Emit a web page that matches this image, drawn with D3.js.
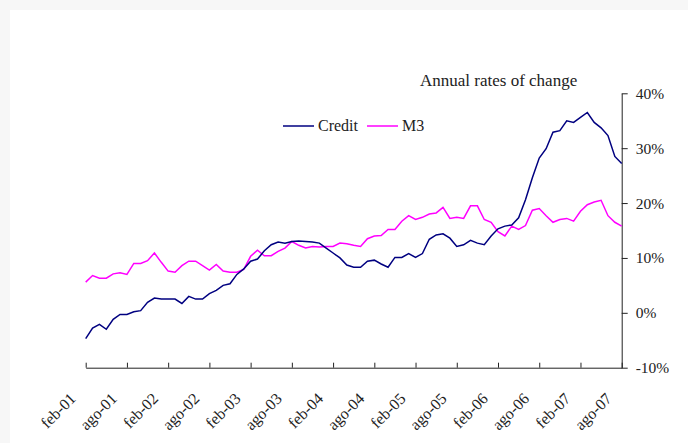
<!DOCTYPE html>
<html>
<head>
<meta charset="utf-8">
<script src="https://cdn.jsdelivr.net/npm/d3@7"></script>
<style>
  body { margin: 0; background: #f7f7f7; }
  svg { display: block; }
  text { font-family: "Liberation Serif", "DejaVu Serif", serif; fill: #222; }
</style>
</head>
<body>
<svg id="chart"></svg>
<script>
// monthly, feb-01 .. ago-07
const monthNames = ["ene","feb","mar","abr","may","jun","jul","ago","sep","oct","nov","dic"];
const months = [];
for (let i = 0; i < 79; i++) {
  const m = (1 + i) % 12, yr = 1 + Math.floor((1 + i) / 12);
  months.push(monthNames[m] + "-" + String(yr).padStart(2, "0"));
}

const credit = [
  -4.7, -2.8, -2.1, -3.0, -1.2, -0.3, -0.3, 0.2, 0.4, 1.9, 2.7, 2.5,
  2.5, 2.5, 1.7, 3.0, 2.5, 2.5, 3.5, 4.1, 5.0, 5.3, 7.0, 8.0,
  9.4, 9.8, 11.3, 12.4, 12.9, 12.7, 13.0, 13.1, 13.0, 12.9, 12.7, 11.8,
  10.9, 10.0, 8.7, 8.3, 8.3, 9.4, 9.6, 8.9, 8.3, 10.1, 10.1, 10.8,
  10.1, 10.8, 13.4, 14.2, 14.4, 13.6, 12.1, 12.4, 13.2, 12.7, 12.4, 14.0,
  15.3, 15.8, 16.0, 17.3, 20.6, 24.6, 28.2, 29.9, 32.9, 33.2, 35.0, 34.7,
  35.6, 36.5, 34.7, 33.7, 32.3, 28.5, 27.2
];
const m3 = [
  5.6, 6.8, 6.3, 6.3, 7.1, 7.3, 7.0, 9.0, 9.0, 9.5, 10.9, 9.2,
  7.6, 7.4, 8.6, 9.4, 9.4, 8.6, 7.8, 8.8, 7.6, 7.4, 7.4, 7.9,
  10.3, 11.4, 10.4, 10.4, 11.2, 11.8, 13.0, 12.3, 11.8, 12.1, 12.0, 12.1,
  12.1, 12.7, 12.6, 12.3, 12.1, 13.5, 14.0, 14.1, 15.2, 15.2, 16.7, 17.7,
  17.0, 17.4, 18.0, 18.2, 19.2, 17.2, 17.4, 17.2, 19.5, 19.5, 17.0, 16.5,
  14.8, 14.0, 15.8, 15.2, 15.9, 18.7, 19.0, 17.7, 16.5, 17.0, 17.2, 16.7,
  18.5, 19.7, 20.2, 20.5, 17.7, 16.5, 15.8
];

const xTickLabels = ["feb-01","ago-01","feb-02","ago-02","feb-03","ago-03","feb-04",
  "ago-04","feb-05","ago-05","feb-06","ago-06","feb-07","ago-07"];
const yTicks = [-10, 0, 10, 20, 30, 40];

const width = 688, height = 443;
const plot = {left: 85.7, right: 621.7, top: 93.3, bottom: 367.7};

const svg = d3.select("#chart").attr("width", width).attr("height", height);

svg.append("rect").attr("x", 10).attr("y", 10)
  .attr("width", width - 10).attr("height", height - 10).attr("fill", "#fff");

const x = d3.scalePoint().domain(months).range([plot.left, plot.right]);
const y = d3.scaleLinear().domain([-10, 40]).range([plot.bottom, plot.top]);

// y axis on the right
const yAxis = d3.axisRight(y).tickValues(yTicks).tickSize(6).tickSizeOuter(0)
  .tickPadding(8).tickFormat(d => d + "%");
const yg = svg.append("g").attr("transform", `translate(${plot.right},0)`).call(yAxis);
yg.selectAll("path, line").attr("stroke", "#222");
yg.selectAll("text").attr("font-size", 15.5).attr("fill", "#222")
  .attr("font-family", "Liberation Serif");

// x axis, ticks pointing up
const xAxis = d3.axisBottom(x).tickValues(xTickLabels).tickSize(-5).tickSizeOuter(0)
  .tickFormat("");
const xg = svg.append("g").attr("transform", `translate(0,${plot.bottom})`).call(xAxis);
xg.selectAll("path, line").attr("stroke", "#222");

svg.append("g").selectAll("text")
  .data(xTickLabels)
  .join("text")
  .attr("transform", d => `translate(${x(d) - 9},${plot.bottom + 32}) rotate(-45)`)
  .attr("text-anchor", "end")
  .attr("font-size", 16)
  .text(d => d);

const line = d3.line().x((d, i) => x(months[i])).y(d => y(d));

svg.append("path").datum(m3).attr("d", line)
  .attr("fill", "none").attr("stroke", "#ff00ff").attr("stroke-width", 1.5);
svg.append("path").datum(credit).attr("d", line)
  .attr("fill", "none").attr("stroke", "#000080").attr("stroke-width", 1.5);

svg.append("text").attr("x", 420).attr("y", 86).attr("font-size", 17)
  .text("Annual rates of change");

// legend
const legend = [
  {name: "Credit", color: "#000080", x: 283},
  {name: "M3", color: "#ff00ff", x: 367}
];
const lg = svg.append("g").selectAll("g").data(legend).join("g");
lg.append("line")
  .attr("x1", d => d.x).attr("x2", d => d.x + 31)
  .attr("y1", 126).attr("y2", 126)
  .attr("stroke", d => d.color).attr("stroke-width", 1.5);
lg.append("text")
  .attr("x", d => d.x + 35).attr("y", 131)
  .attr("font-size", 16)
  .text(d => d.name);
</script>
</body>
</html>
